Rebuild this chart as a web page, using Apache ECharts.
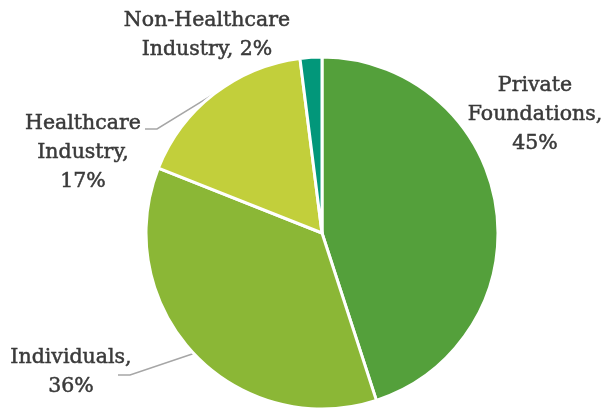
<!DOCTYPE html>
<html><head><meta charset="utf-8">
<script src="https://cdn.jsdelivr.net/npm/echarts@6/dist/echarts.min.js"></script>
<style>html,body{margin:0;padding:0;background:#fff}#c{width:603px;height:409px}</style>
</head><body><div id="c"></div>
<script>
const categories = ['Private Foundations', 'Individuals', 'Healthcare Industry', 'Non-Healthcare Industry'];
const values = [45, 36, 17, 2];
const labelTexts = ['Private\nFoundations,\n45%', 'Individuals,\n36%', 'Healthcare\nIndustry,\n17%', 'Non-Healthcare\nIndustry, 2%'];

const colors = ['#54a03b', '#8bb736', '#c2cf3b', '#02977a'];
// label block centres
const labelPos = [[535, 115], [71, 372], [83, 153], [207, 35]];
// label-line end offsets relative to label centre (null = no line)
const lineEnd = [null, [47, 3], [62, -24], null];

const chart = echarts.init(document.getElementById('c'));
chart.setOption({
  animation: false,
  series: [{
    type: 'pie',
    center: [322, 233],
    radius: [0, 176],
    startAngle: 90,
    clockwise: true,
    itemStyle: { borderColor: '#fff', borderWidth: 3 },
    label: {
      show: true,
      fontFamily: 'DejaVu Serif',
      fontSize: 20.5,
      lineHeight: 29,
      color: '#3a3a3a',
      textBorderColor: '#3a3a3a',
      textBorderWidth: 0.5,
      align: 'center',
      overflow: 'none',
      width: 200
    },
    labelLine: { show: true, lineStyle: { color: '#a6a6a6', width: 1.5 }, length: 10, length2: 10 },
    labelLayout: function (p) {
      const i = p.dataIndex;
      const pos = labelPos[i];
      const res = { x: pos[0], y: pos[1], align: 'center', verticalAlign: 'middle', hideOverlap: false };
      if (lineEnd[i] && p.labelLinePoints) {
        const start = p.labelLinePoints[0];
        const ex = pos[0] + lineEnd[i][0], ey = pos[1] + lineEnd[i][1];
        res.labelLinePoints = [start, [ex + 12, ey], [ex, ey]];
      }
      return res;
    },
    data: categories.map((c, i) => ({
      name: c,
      value: values[i],
      itemStyle: { color: colors[i] },
      label: { formatter: labelTexts[i] },
      labelLine: { show: !!lineEnd[i] }
    }))
  }]
});
</script></body></html>
